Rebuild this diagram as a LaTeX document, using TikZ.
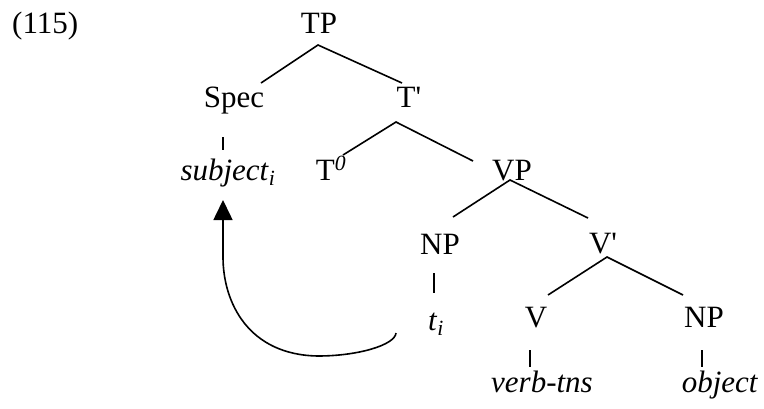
\documentclass[tikz,border=0pt]{standalone}
\usepackage{fontspec}
\setmainfont{Liberation Serif}
\usetikzlibrary{arrows.meta}
\begin{document}
\begin{tikzpicture}[x=1pt,y=-1pt,
  lab/.style={anchor=base,inner sep=0pt,font=\fontsize{31}{37}\selectfont},
  branch/.style={line width=1.6pt},
  movearrow/.style={line width=1.6pt,-{Triangle[length=20pt,width=19pt]}}]
\useasboundingbox (0,0) rectangle (764,408);
\node[lab,anchor=base west] (ex) at (12,33) {(115)};
\node[lab] (TP) at (319,33) {TP};
\node[lab] (Spec) at (234,107) {Spec};
\node[lab] (Tbar) at (409,107) {T\textquotesingle};
\node[lab] (subj) at (228,180) {\textit{subject}\textsubscript{\textit{i}}};
\node[lab] (T0) at (331,180) {T\textsuperscript{\textit{0}}};
\node[lab] (VP) at (512,180) {VP};
\node[lab] (NPa) at (440,254) {NP};
\node[lab] (Vbar) at (603,253) {V\textquotesingle};
\node[lab] (ti) at (436,330) {\textit{t}\textsubscript{\textit{i}}};
\node[lab] (V) at (536,327) {V};
\node[lab] (NPb) at (704,327) {NP};
\node[lab] (verb) at (542,392) {\textit{verb-tns}};
\node[lab] (obj) at (720,392) {\textit{object}};
% branches
\draw[branch] ([shift={(27,-24)}]Spec.base) -- ([shift={(-1,12)}]TP.base) -- ([shift={(-7,-24)}]Tbar.base);
\draw[branch] ([shift={(12,-25)}]T0.base) -- ([shift={(-13,15)}]Tbar.base) -- ([shift={(-39,-19)}]VP.base);
\draw[branch] ([shift={(13,-37)}]NPa.base) -- ([shift={(-2,0)}]VP.base) -- ([shift={(-15,-35)}]Vbar.base);
\draw[branch] ([shift={(12,-32)}]V.base) -- ([shift={(4,4)}]Vbar.base) -- ([shift={(-21,-32)}]NPb.base);
\draw[branch] ([shift={(-11,30)}]Spec.base) -- ([shift={(-5,-30)}]subj.base);
\draw[branch] ([shift={(-6,19)}]NPa.base) -- ([shift={(-2,-37)}]ti.base);
\draw[branch] ([shift={(-6,23)}]V.base) -- ([shift={(-12,-25)}]verb.base);
\draw[branch] ([shift={(-2,23)}]NPb.base) -- ([shift={(-18,-25)}]obj.base);
% movement arrow
\draw[movearrow] ([shift={(-40,3)}]ti.base) .. controls +(-1,12) and +(40,0) .. +(-78,23)
  .. controls +(-70,-1) and +(0,45) .. ([shift={(-5,77)}]subj.base) -- ([shift={(-5,20)}]subj.base);
\end{tikzpicture}
\end{document}
